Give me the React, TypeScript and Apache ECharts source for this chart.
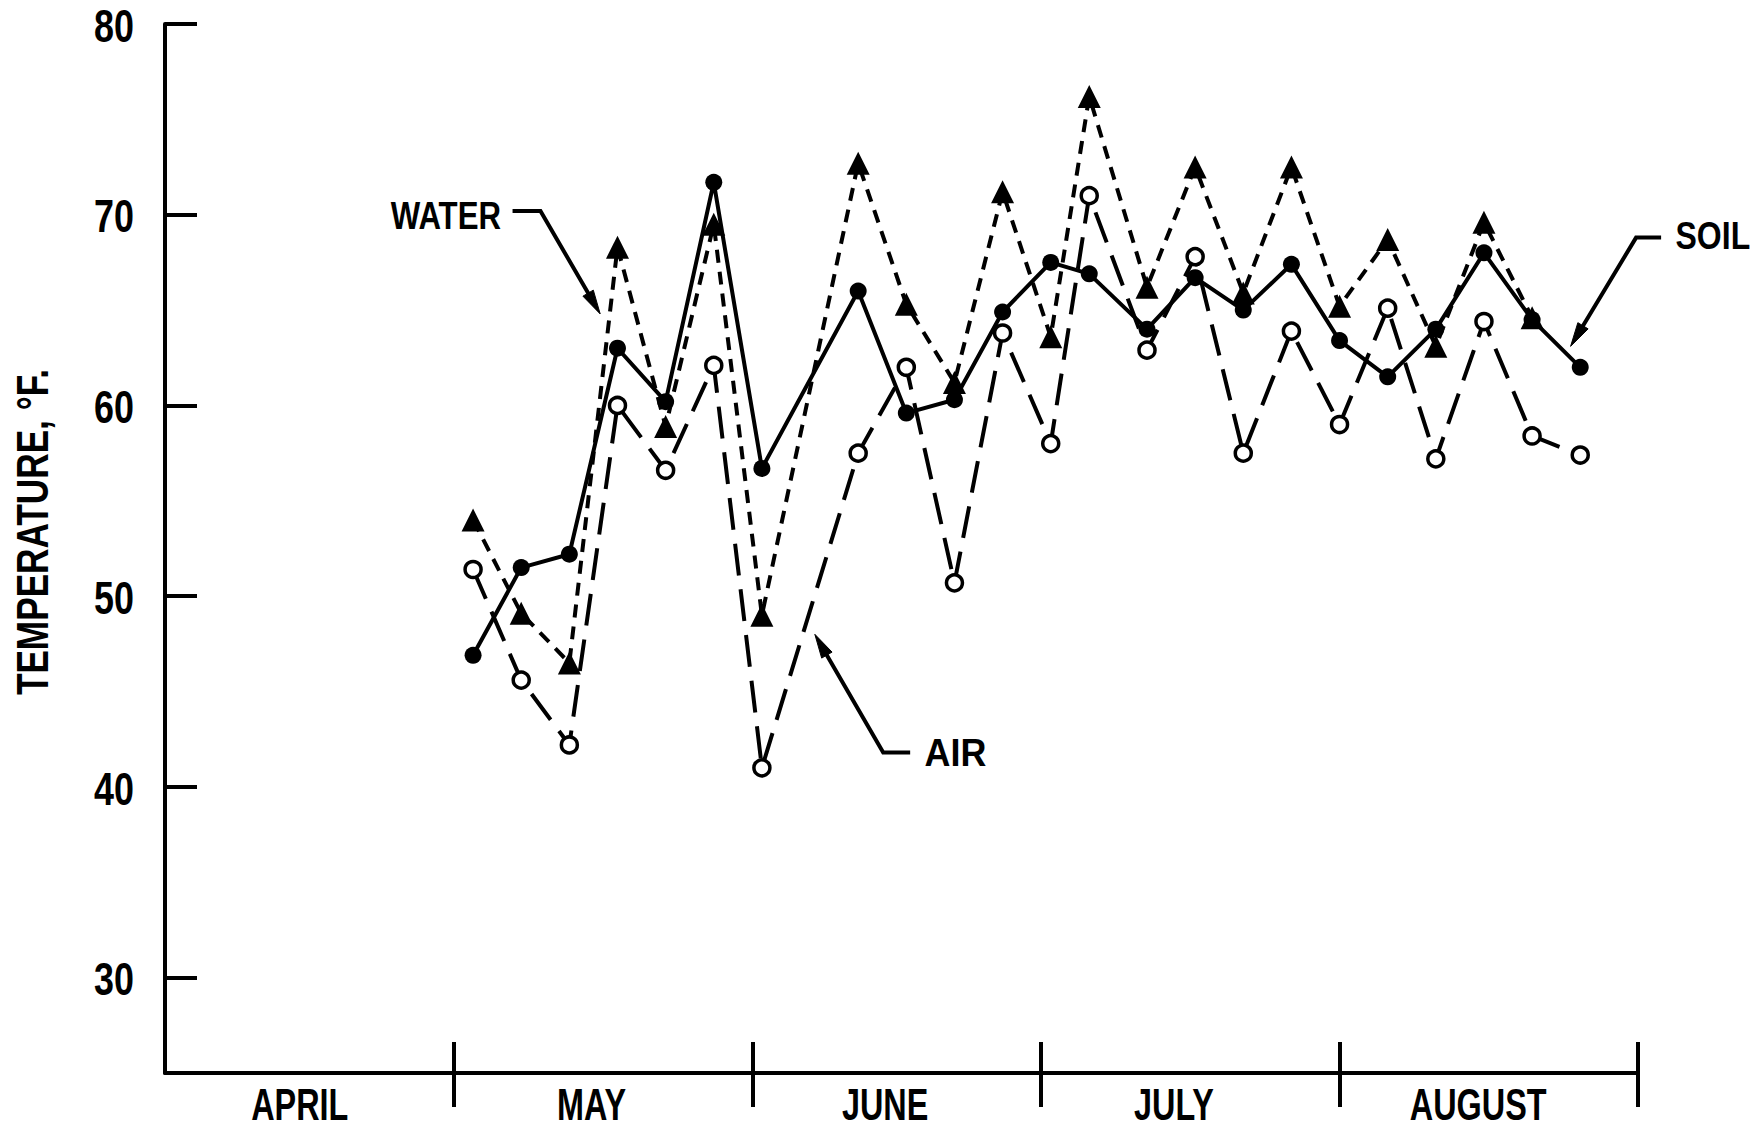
import React, { useEffect, useRef } from "react";
import * as echarts from "echarts";

// Day of season, counted from April 1
const days = [32, 37, 42, 47, 52, 57, 62, 72, 77, 82, 87, 92, 96, 102, 107, 112, 117, 122, 127, 132, 137, 142, 147];
const soil = [46.9, 51.5, 52.2, 63.0, 60.2, 71.7, 56.7, 66.0, 59.6, 60.3, 64.9, 67.5, 66.9, 64.0, 66.7, 65.0, 67.4, 63.4, 61.5, 64.0, 68.0, 64.5, 62.0];
const water = [54.0, 49.1, 46.5, 68.3, 58.9, 69.5, 49.0, 72.7, 65.3, 61.2, 71.2, 63.6, 76.2, 66.2, 72.5, 65.9, 72.5, 65.2, 68.7, 63.1, 69.6, 64.6];
const air = [51.4, 45.6, 42.2, 60.0, 56.6, 62.1, 41.0, 57.5, 62.0, 50.7, 63.8, 58.0, 71.0, 62.9, 67.8, 57.5, 63.9, 59.0, 65.1, 57.2, 64.4, 58.4, 57.4];

const monthBounds = [30, 61, 91, 122, 153];
const monthNames = ["APRIL", "MAY", "JUNE", "JULY", "AUGUST"];
const monthLabelPos = [14, 44.3, 74.8, 104.8, 136.4];
const yTicks = [30, 40, 50, 60, 70, 80];

// annotation anchors in data coordinates [day, temperature]
const annotations = [
  { text: "WATER", at: [34.9, 70.0], align: "right", sx: 0.8, path: [[36.1, 70.2], [39.0, 70.2], [45.2, 64.8]] },
  { text: "AIR", at: [78.9, 41.8], align: "left", sx: 0.92, path: [[77.4, 41.8], [74.6, 41.8], [67.5, 48.0]] },
  { text: "SOIL", at: [156.9, 68.9], align: "left", sx: 0.82, path: [[155.4, 68.8], [152.8, 68.8], [146.0, 63.1]] },
];

const FONT = "'Liberation Sans', Arial, Helvetica, sans-serif";
const WEIGHT = "bold";

export default function App() {
  const ref = useRef<HTMLDivElement>(null);
  useEffect(() => {
    if (!ref.current) return;
    const chart = echarts.init(ref.current, null, { renderer: "svg" });
    const pair = (vals: number[]) => vals.map((v, i) => [days[i], v]);
    const option: any = {
      animation: false,
      backgroundColor: "#fff",
      grid: { left: 165, right: 124, top: 24, bottom: 56, containLabel: false, outerBoundsMode: "none" },
      xAxis: [
        {
          type: "value",
          min: 0,
          max: 153,
          position: "bottom",
          axisLine: { show: true, onZero: false, lineStyle: { color: "#000", width: 4 } },
          axisTick: { show: true, inside: false, length: 34, customValues: monthBounds, lineStyle: { color: "#000", width: 4 } },
          axisLabel: { show: false },
          splitLine: { show: false },
        },
        {
          type: "value",
          min: 0,
          max: 153,
          position: "bottom",
          axisLine: { show: false, onZero: false },
          axisTick: { show: true, inside: true, length: 31, customValues: monthBounds, lineStyle: { color: "#000", width: 4 } },
          axisLabel: { show: false },
          splitLine: { show: false },
        },
      ],
      yAxis: {
        type: "value",
        min: 25,
        max: 80,
        axisLine: { show: true, onZero: false, lineStyle: { color: "#000", width: 4 } },
        axisTick: { show: true, inside: true, length: 32, customValues: yTicks, lineStyle: { color: "#000", width: 4 } },
        axisLabel: { show: false },
        splitLine: { show: false },
      },
      series: [
        {
          name: "AIR",
          type: "line",
          data: pair(air),
          symbol: "circle",
          symbolSize: 16,
          itemStyle: { color: "#fff", borderColor: "#000", borderWidth: 3.5 },
          lineStyle: { color: "#000", width: 4, type: [32, 14] },
          emphasis: { disabled: true },
          z: 2,
        },
        {
          name: "WATER",
          type: "line",
          data: pair(water),
          symbol: "triangle",
          symbolSize: [23, 23],
          itemStyle: { color: "#000" },
          lineStyle: { color: "#000", width: 4, type: [13, 9] },
          emphasis: { disabled: true },
          z: 3,
        },
        {
          name: "SOIL",
          type: "line",
          data: pair(soil),
          symbol: "circle",
          symbolSize: 17,
          itemStyle: { color: "#000" },
          lineStyle: { color: "#000", width: 4, type: "solid" },
          emphasis: { disabled: true },
          z: 4,
        },
      ],
    };
    chart.setOption(option);

    const toPx = (p: number[]) => chart.convertToPixel({ seriesIndex: 0 }, p) as number[];
    const txt = (text: string, x: number, y: number, size: number, sx: number, align: string, extra: any = {}) => ({
      type: "text",
      x,
      y,
      scaleX: sx,
      ...extra,
      style: {
        text,
        align,
        verticalAlign: "middle",
        fill: "#000",
        fontSize: size,
        lineHeight: Math.round(size * 0.86),
        fontWeight: WEIGHT,
        fontFamily: FONT,
      },
    });
    const graphics: any[] = [];

    // y tick labels
    yTicks.forEach((v) => {
      const p = toPx([0, v]);
      graphics.push(txt(String(v), p[0] - 31, p[1] + 2, 46, 0.78, "right"));
    });
    // month labels
    monthLabelPos.forEach((d, i) => {
      const p = toPx([d, 25]);
      graphics.push(txt(monthNames[i], p[0], p[1] + 32, 45, 0.72, "center"));
    });
    // y axis title
    graphics.push(txt("TEMPERATURE, °F.", 33, 532, 44, 0.8, "center", { rotation: Math.PI / 2 }));

    annotations.forEach((a) => {
      const at = toPx(a.at);
      graphics.push(txt(a.text, at[0], at[1], 39, a.sx, a.align));
      const pts = a.path.map(toPx);
      const tip = pts[pts.length - 1];
      const prev = pts[pts.length - 2];
      const dx = tip[0] - prev[0];
      const dy = tip[1] - prev[1];
      const len = Math.sqrt(dx * dx + dy * dy);
      const ux = dx / len;
      const uy = dy / len;
      const L = 24;
      const W = 6;
      const bx = tip[0] - ux * L;
      const by = tip[1] - uy * L;
      const linePts = pts.slice(0, -1).concat([[bx + ux * 4, by + uy * 4]]);
      graphics.push({
        type: "polyline",
        shape: { points: linePts },
        style: { stroke: "#000", lineWidth: 4, fill: null, lineJoin: "miter" },
      });
      graphics.push({
        type: "polygon",
        shape: {
          points: [
            [tip[0], tip[1]],
            [bx - uy * W, by + ux * W],
            [bx + uy * W, by - ux * W],
          ],
        },
        style: { fill: "#000", stroke: "#000", lineWidth: 1 },
      });
    });
    chart.setOption({ graphic: graphics });

    return () => chart.dispose();
  }, []);
  return (
    <div
      ref={ref}
      style={{ position: "fixed", left: 0, top: 0, width: 1762, height: 1129, background: "#fff" }}
    />
  );
}
